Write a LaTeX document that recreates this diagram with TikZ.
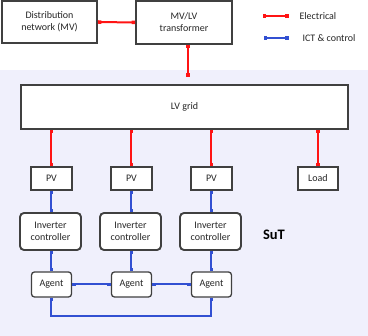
\documentclass[tikz,border=0pt]{standalone}
\usepackage{fontspec}
\setmainfont{Carlito}
\usetikzlibrary{arrows.meta}

\definecolor{sutbg}{RGB}{240,240,252}
\definecolor{boxline}{RGB}{64,64,64}
\definecolor{elec}{RGB}{255,20,20}
\definecolor{ict}{RGB}{50,80,210}

\tikzset{
  block/.style={draw=boxline, line width=1.9pt, fill=white, inner sep=0pt,
    align=center, text=black!85, font=\fontsize{10}{12}\selectfont},
  ctrlbox/.style={block, rounded corners=4pt},
  agentbox/.style={block, line width=1.3pt, rounded corners=3pt},
  electric/.style={elec, line width=2pt, {Square[length=3.5pt,width=3.5pt]}-{Square[length=3.5pt,width=3.5pt]}},
  ictlink/.style={ict, line width=2pt, {Square[length=3.5pt,width=3.5pt]}-{Square[length=3.5pt,width=3.5pt]}},
  ictline/.style={ict, line width=2pt}
}

\begin{document}
\begin{tikzpicture}[x=1pt, y=-1pt] % one unit is one pixel, y runs down
    \useasboundingbox (0,0) rectangle (368,336);

    % System under test area
    \fill[sutbg] (0,70) rectangle (368,336);

    % Upstream part
    \node[block, minimum width=95pt, minimum height=42pt] (dn) at (49.5,22) {Distribution\\network (MV)};
    \node[block, minimum width=96pt, minimum height=43pt] (tr) at (184,22.5) {MV/LV\\transformer};
    \draw[electric] (dn.east) -- (tr.west);
    \coordinate (feed) at (188,77);
    \draw[electric] (feed |- tr.south) -- (feed);

    % Legend
    \coordinate (el1) at (263,16);  \coordinate (el2) at (289,16);
    \coordinate (ic1) at (264,38);  \coordinate (ic2) at (289,38);
    \draw[electric] (el1) -- (el2);
    \draw[ictlink] (ic1) -- (ic2);
    \node[anchor=west, text=black!85, font=\fontsize{10}{12}\selectfont] (ellbl) at (296,16) {Electrical};
    \node[anchor=west, text=black!85, font=\fontsize{10}{12}\selectfont] (iclbl) at (299,38) {ICT \& control};

    % LV grid
    \node[block, minimum width=327pt, minimum height=44pt] (lv) at (184.5,107) {LV grid};

    % PV units with their controllers and agents
    \foreach \i/\x in {1/51.5, 2/131.5, 3/211.5} {
        \node[block, minimum width=41pt, minimum height=23pt] (pv\i) at (\x,178.5) {PV};
        \node[ctrlbox, minimum width=61pt, minimum height=37pt] (inv\i) at (\x-1,231.5) {Inverter\\controller};
        \node[agentbox, minimum width=40pt, minimum height=25pt] (ag\i) at (\x,284.5) {Agent};
        \draw[electric] (pv\i.north) -- (pv\i.north |- lv.south);
        \draw[ictlink] (pv\i.south) -- (pv\i.south |- inv\i.north);
        \draw[ictlink] (ag\i.north |- inv\i.south) -- (ag\i.north);
    }

    % Load
    \node[block, minimum width=40pt, minimum height=23pt] (load) at (318,178.5) {Load};
    \draw[electric] (load.north) -- (load.north |- lv.south);

    % Agent communication
    \draw[ictlink] (ag1.east) -- (ag2.west);
    \draw[ictlink] (ag2.east) -- (ag3.west);
    \coordinate (loop) at (0,316);
    \draw[ictline, {Square[length=3.5pt,width=3.5pt]}-{Square[length=3.5pt,width=3.5pt]}]
        (ag1.south) -- (ag1.south |- loop) -- (ag3.south |- loop) -- (ag3.south);

    \node[font=\fontsize{14.5}{16}\selectfont\bfseries] (sut) at (274,235) {SuT};
\end{tikzpicture}
\end{document}
